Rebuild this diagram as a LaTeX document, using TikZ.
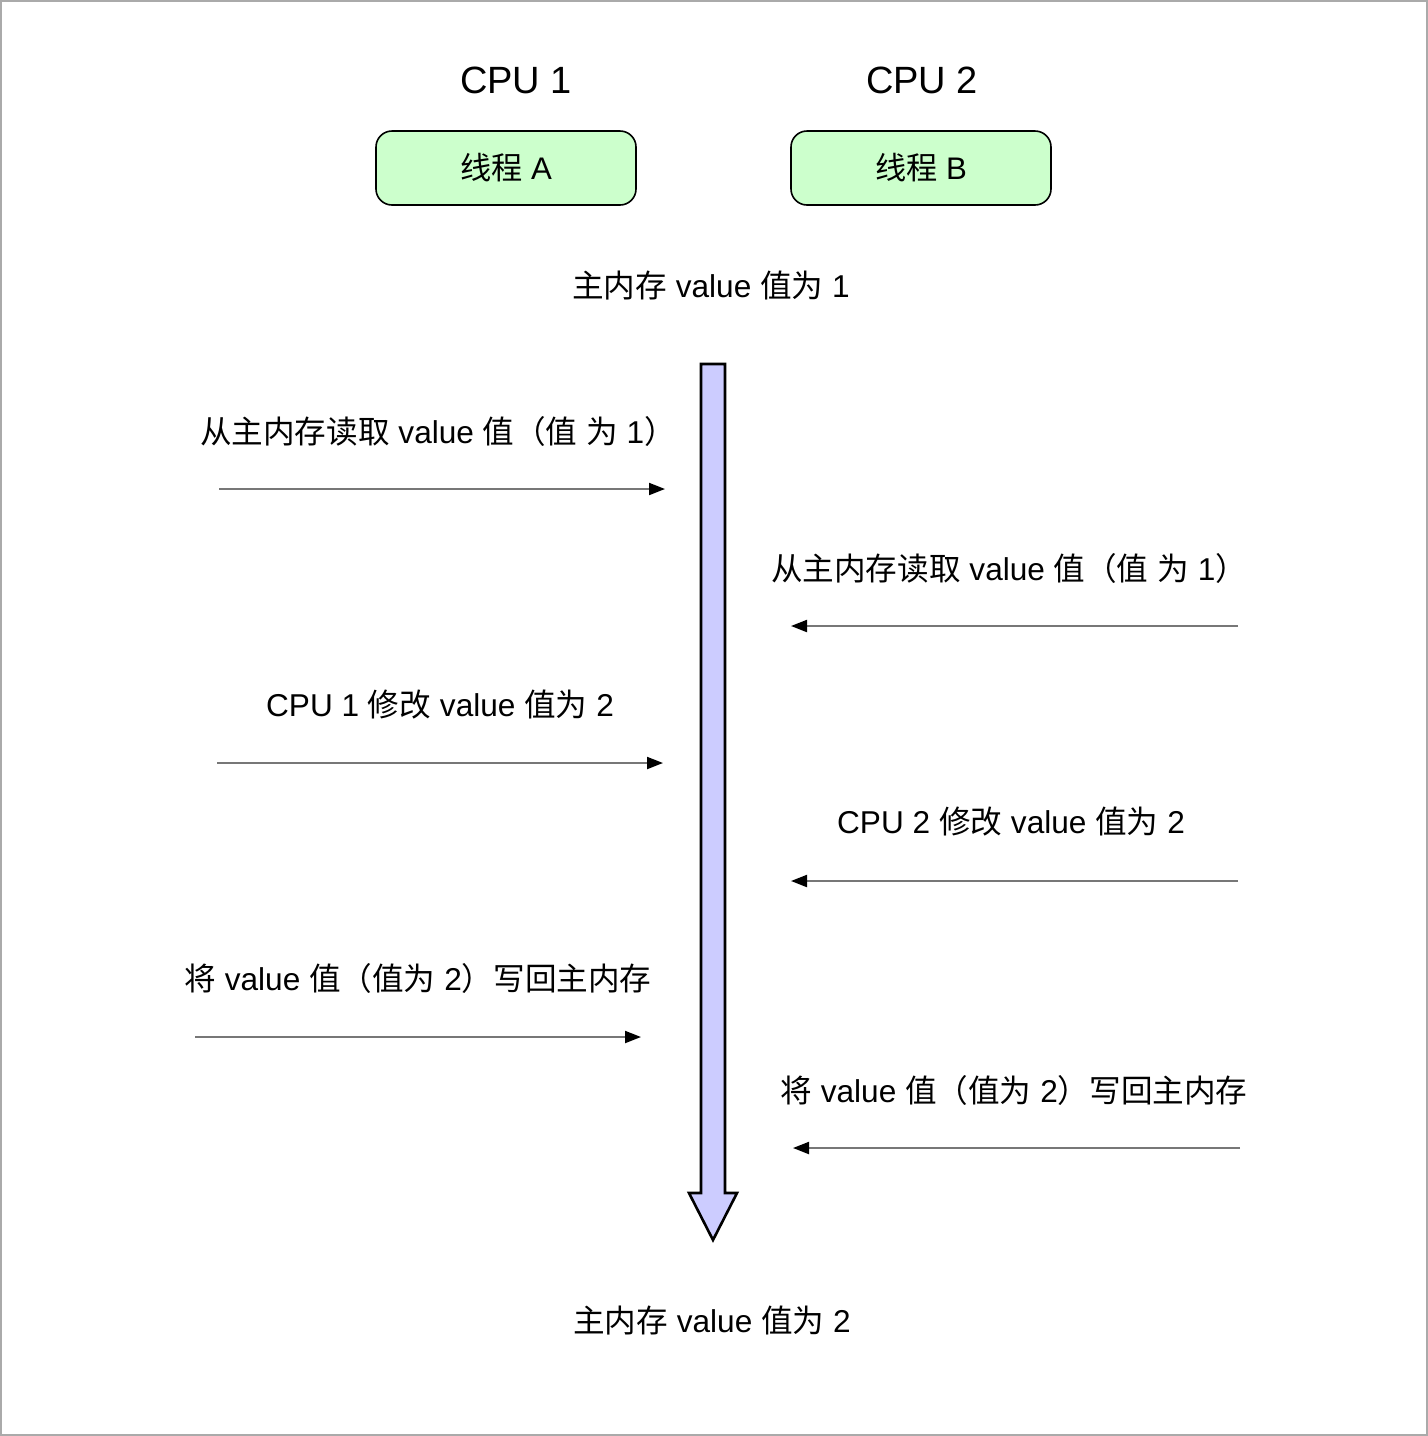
\documentclass[tikz,border=0pt]{standalone}
\usepackage{fontspec}
\setmainfont{Liberation Sans}
\newfontfamily\zh{Noto Sans CJK SC}
\usetikzlibrary{arrows.meta,positioning}

\definecolor{threadgreen}{HTML}{CCFFCC}
\definecolor{mainblue}{HTML}{CCCCFF}
\definecolor{msggray}{HTML}{777777}
\definecolor{framegray}{HTML}{AAAAAA}

\begin{document}
\begin{tikzpicture}[
	x = 0.5pt, y = -0.5pt, % one unit = one pixel of the page
	CPU/.style={inner sep=0pt, font=\fontsize{19pt}{22pt}\selectfont},
	T/.style={rectangle, rounded corners=8pt, draw=black, line width=0.8pt, fill=threadgreen, minimum width=130pt, minimum height=37pt, font=\fontsize{15.6pt}{18pt}\selectfont},  % thread box
	L/.style={inner sep=0pt, font=\fontsize{15.8pt}{18pt}\selectfont},  % plain label
	msg/.style={draw=msggray, line width=1pt, -{Triangle[length=8pt, width=6pt, black]}},
	]

	% Frame
	\useasboundingbox (0,0) rectangle (1428,1436);
	\draw[framegray, line width=1pt] (1,1) rectangle (1427,1435);

	% CPUs and their threads
	\node[T] (A) at (506,168) {{\zh 线程} A};
	\node[T] (B) at (921,168) {{\zh 线程} B};
	\node[CPU] (cpu1) at (516,80) {CPU 1};
	\node[CPU] (cpu2) at (922,80) {CPU 2};

	% Main memory, before and after
	\node[L] (mem1) at (711,286) {{\zh 主内存} value {\zh 值为} 1};
	\node[L] (mem2) at (712,1321) {{\zh 主内存} value {\zh 值为} 2};
	\filldraw[fill=mainblue, draw=black, line width=1.3pt]
		(701,364) -- (725,364) -- (725,1193) -- (737,1193) -- (713,1240) -- (689,1193) -- (701,1193) -- cycle;

	% Labels of the steps
	\node[L] (s1) at (438,431) {{\zh 从主内存读取} value {\zh 值（值} {\zh 为} 1{\zh ）}};
	\node[L] (s2) at (1009,568) {{\zh 从主内存读取} value {\zh 值（值} {\zh 为} 1{\zh ）}};
	\node[L] (s3) at (440,705) {CPU 1 {\zh 修改} value {\zh 值为} 2};
	\node[L] (s4) at (1011,822) {CPU 2 {\zh 修改} value {\zh 值为} 2};
	\node[L] (s5) at (418,978) {{\zh 将} value {\zh 值（值为} 2{\zh ）写回主内存}};
	\node[L] (s6) at (1014,1090) {{\zh 将} value {\zh 值（值为} 2{\zh ）写回主内存}};

	% Ends of the step arrows
	\coordinate (a1) at (219,489);  \coordinate (b1) at (665,489);
	\coordinate (a2) at (1238,626); \coordinate (b2) at (791,626);
	\coordinate (a3) at (217,763);  \coordinate (b3) at (663,763);
	\coordinate (a4) at (1238,881); \coordinate (b4) at (791,881);
	\coordinate (a5) at (195,1037); \coordinate (b5) at (641,1037);
	\coordinate (a6) at (1240,1148); \coordinate (b6) at (793,1148);

	% Step arrows
	\foreach \i in {1,...,6}
		\draw[msg] (a\i) -- (b\i);

\end{tikzpicture}
\end{document}
